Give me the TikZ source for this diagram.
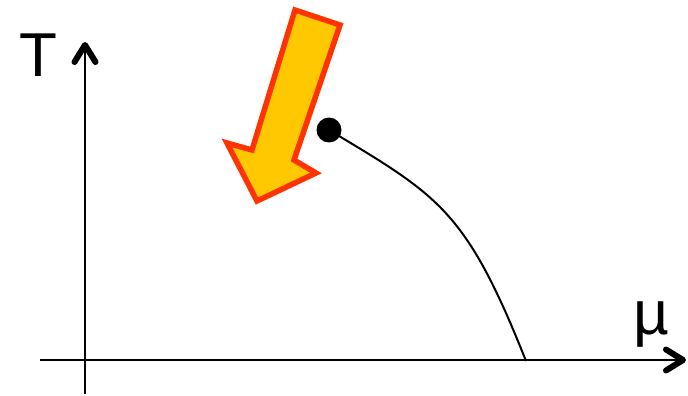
\documentclass[tikz,border=0pt]{standalone}
\usepackage{fontspec}
\setmainfont{Liberation Sans}
\usetikzlibrary{arrows.meta}
\definecolor{arrowFill}{HTML}{FFC800}
\definecolor{arrowLine}{HTML}{FF3300}

\tikzset{
  axis/.style={line width=2.2pt, -{Straight Barb[length=17pt,width=21pt,line width=6pt,round]}},
  axislabel/.style={font=\fontsize{62}{62}\selectfont, inner sep=0pt},
  cepdot/.style={circle, fill=black, minimum size=25pt, inner sep=0pt},
  transline/.style={line width=2pt},
}

\begin{document}
\begin{tikzpicture}[x=1pt,y=-1pt]
\useasboundingbox (0,0) rectangle (688,396);

% --- AXES ---
\coordinate (xstart) at (40,360);
\coordinate (xend)   at (686,360);
\coordinate (ystart) at (85,394);
\coordinate (yend)   at (85,42);
\draw[axis] (xstart) -- (xend);
\draw[axis] (ystart) -- (yend);

% --- AXIS LABELS ---
\node[axislabel, anchor=base] (tlab) at (38,77) {T};
\node[axislabel] (mulab) at (651,325) {µ};

% --- CRITICAL POINT AND TRANSITION LINE ---
\node[cepdot] (cep) at (329,130) {};
\coordinate (muc) at (526,361);
\draw[transline] (cep.center) .. controls (439,196) and (466,210) .. (muc);

% --- BIG ARROW ---
\draw[arrowLine, fill=arrowFill, line width=5.5pt, line join=miter]
  (295,10) -- (340,25) -- (294,160) -- (316,173) -- (257,201)
  -- (227,143) -- (252,150) -- cycle;

\end{tikzpicture}
\end{document}
